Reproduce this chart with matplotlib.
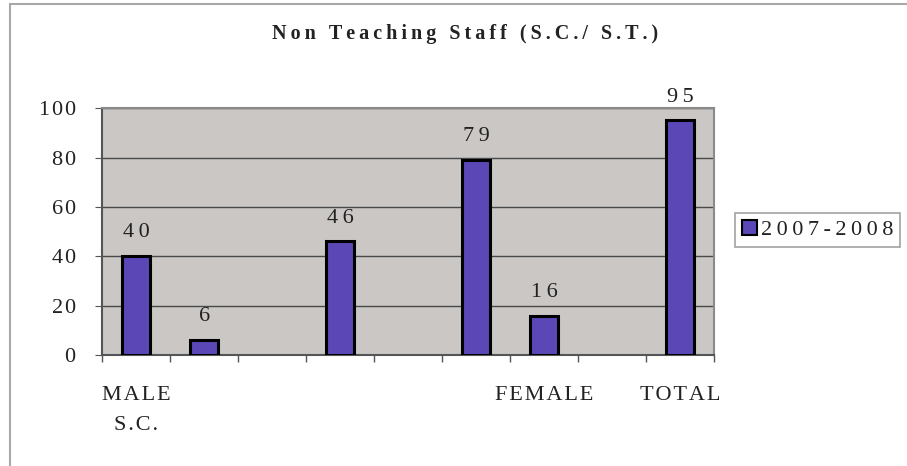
import matplotlib.pyplot as plt
import matplotlib.patches as mpatches
import numpy as np

plt.rcParams['font.family'] = ['Liberation Serif', 'DejaVu Serif']

# categories (empty ones had no label in the original)
cat_labels = ['MALE\nS.C.', '', '', '', '', '', 'FEMALE', '', 'TOTAL']
# 2007-2008 counts, None = no bar
values = [40, 6, None, 46, None, 79, 16, None, 95]
series_name = '2007-2008'
title = 'Non Teaching Staff (S.C./ S.T.)'

bar_color = '#5B47B5'
plot_bg = '#CAC7C5'
txt_color = '#222222'


def spaced(s, sep='\u2009'):
    # the scanned chart has wide letter spacing; fake it with thin spaces
    return '\n'.join(sep.join(line) for line in s.split('\n'))


fig = plt.figure(figsize=(9.07, 4.66), dpi=100)
ax = fig.add_axes([0.1125, 0.238, 0.675, 0.53])
ax.set_facecolor(plot_bg)

# light outer frame of the chart
fig.add_artist(mpatches.Rectangle((10 / 907, -0.01), 1.0, 1 - 4 / 466 + 0.01,
                                  transform=fig.transFigure, fill=False,
                                  edgecolor='#A8A8A8', linewidth=1.5))

x = np.arange(len(cat_labels))
for i, v in enumerate(values):
    if v is None:
        continue
    ax.bar(x[i], v, width=0.41, color=bar_color, edgecolor='black',
           linewidth=2.2, zorder=3)
    ax.annotate(spaced(str(v)), (x[i], v), xytext=(0, 10),
                textcoords='offset points', ha='center', va='bottom',
                fontsize=16, color=txt_color)

ax.set_xlim(-0.5, len(cat_labels) - 0.5)
ax.set_ylim(0, 100)
ax.set_yticks(range(0, 101, 20))
ax.set_yticklabels([spaced(str(t), '\u200a') for t in range(0, 101, 20)])
ax.yaxis.grid(True, color='#4A4A4A', linewidth=1.0, zorder=1)
ax.set_axisbelow(True)

ax.set_xticks(x)
ax.set_xticklabels([spaced(c, '\u200a') for c in cat_labels], fontsize=16,
                   color=txt_color, linespacing=1.8)
ax.tick_params(axis='x', length=0, pad=22)
ax.set_xticks(np.arange(-0.5, len(cat_labels)), minor=True)
ax.tick_params(axis='x', which='minor', length=5, color='#555555', width=1)
ax.tick_params(axis='y', labelsize=16, labelcolor=txt_color, length=5,
               color='#555555', pad=14)

for s in ['top', 'right']:
    ax.spines[s].set_color('#8A8A8A')
    ax.spines[s].set_linewidth(1.5)
for s in ['left', 'bottom']:
    ax.spines[s].set_color('#555555')
    ax.spines[s].set_linewidth(1.5)

fig.text(465 / 907, 1 - 34 / 466, spaced(title), ha='center', va='center',
         fontsize=14.5, fontweight='bold', color=txt_color)

handle = mpatches.Patch(facecolor=bar_color, edgecolor='black', linewidth=1.5)
leg = fig.legend([handle], [spaced(series_name)], loc='center left',
                 bbox_to_anchor=(735 / 907, 1 - 230 / 466), fontsize=16,
                 frameon=True, fancybox=False, handlelength=0.7,
                 handleheight=0.7, handletextpad=0.15, borderpad=0.3,
                 borderaxespad=0)
leg.get_frame().set_edgecolor('#8A8A8A')
leg.get_frame().set_linewidth(1.2)
for t in leg.get_texts():
    t.set_color(txt_color)

fig.savefig('out.png', dpi=100, facecolor='white')
